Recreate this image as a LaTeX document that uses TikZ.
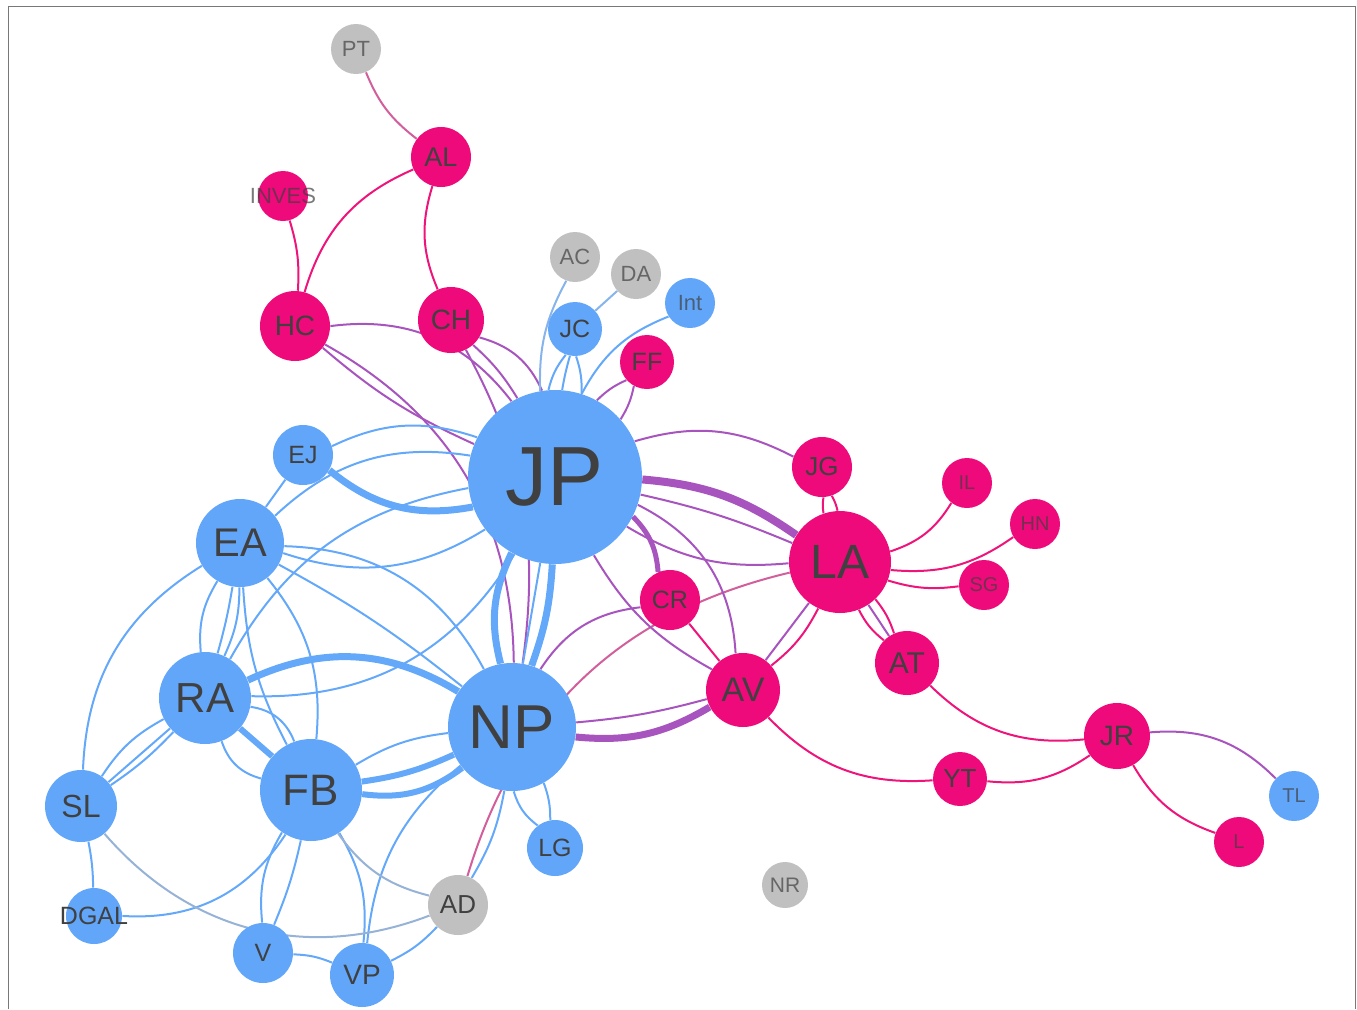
\documentclass[tikz,border=0pt]{standalone}
\usepackage{fontspec}
\setmainfont{Liberation Sans}
\usepackage{tikz}
\usetikzlibrary{backgrounds}
\definecolor{nodeblue}{RGB}{98,166,250}
\definecolor{nodepink}{RGB}{238,10,122}
\definecolor{nodegray}{RGB}{192,192,192}
\definecolor{labgray}{RGB}{64,64,64}
\definecolor{edgeblue}{RGB}{100,168,250}
\definecolor{edgepurple}{RGB}{168,84,190}
\definecolor{edgepink}{RGB}{238,20,122}
\definecolor{edgemauve}{RGB}{210,95,155}
\definecolor{edgelight}{RGB}{135,180,235}
\definecolor{edgegrayblue}{RGB}{150,178,215}
\definecolor{framegray}{RGB}{120,120,120}

\begin{document}
\begin{tikzpicture}[x=0.5pt, y=-0.5pt,
	vtx/.style={circle, inner sep=0pt, minimum size=#1},
	blu/.style={vtx=#1, fill=nodeblue},
	pnk/.style={vtx=#1, fill=nodepink},
	gry/.style={vtx=#1, fill=nodegray},
	lbl/.style={text=labgray, inner sep=0pt, font=\fontsize{#1pt}{#1pt}\selectfont},
	lbs/.style={lbl=#1, text opacity=0.7},
	bl/.style={draw=edgeblue, line width=1pt},
	pl/.style={draw=edgepurple, line width=1pt},
	pk/.style={draw=edgepink, line width=1pt},
	mv/.style={draw=edgemauve, line width=1pt},
	lb/.style={draw=edgelight, line width=1pt},
	gb/.style={draw=edgegrayblue, line width=1pt}]
	\useasboundingbox (0,0) rectangle (1357,1009);
	\draw[framegray, line width=0.5pt] (8,1009) -- (8,6) -- (1355,6) -- (1355,1009);

	% pink side, top
	\node[gry=25pt, label={[lbs=11]center:PT}] (PT) at (356,49) {};
	\node[pnk=30pt, label={[lbl=13.5]center:AL}] (AL) at (441,157) {};
	\node[pnk=25pt, label={[lbs=11]center:INVES}] (INVES) at (283,196) {};
	\node[pnk=35pt, label={[lbl=14]center:HC}] (HC) at (295,326) {};
	\node[pnk=33pt, label={[lbl=14]center:CH}] (CH) at (451,320) {};
	\node[gry=25pt, label={[lbs=11]center:AC}] (AC) at (575,257) {};
	\node[gry=25pt, label={[lbs=11]center:DA}] (DA) at (636,274) {};
	\node[blu=25pt, label={[lbs=11]center:Int}] (Int) at (690,303) {};
	\node[blu=27pt, label={[lbl=12.5]center:JC}] (JC) at (575,329) {};
	\node[pnk=27pt, label={[lbl=12.5]center:FF}] (FF) at (647,362) {};
	% the two hubs
	\node[blu=87pt, label={[lbl=42]center:JP}] (JP) at (555,477) {};
	\node[blu=64pt, label={[lbl=31]center:NP}] (NP) at (512,727) {};
	% right
	\node[pnk=30pt, label={[lbl=13]center:JG}] (JG) at (822,467) {};
	\node[pnk=51pt, label={[lbl=24]center:LA}] (LA) at (840,562) {};
	\node[pnk=25pt, label={[lbs=10]center:IL}] (IL) at (967,483) {};
	\node[pnk=25pt, label={[lbs=10]center:HN}] (HN) at (1035,524) {};
	\node[pnk=25pt, label={[lbs=10]center:SG}] (SG) at (984,585) {};
	\node[pnk=30pt, label={[lbl=12.5]center:CR}] (CR) at (670,600) {};
	\node[pnk=37pt, label={[lbl=17]center:AV}] (AV) at (743,690) {};
	\node[pnk=32pt, label={[lbl=15]center:AT}] (AT) at (907,663) {};
	\node[pnk=33pt, label={[lbl=14]center:JR}] (JR) at (1117,736) {};
	\node[pnk=27pt, label={[lbl=13]center:YT}] (YT) at (960,779) {};
	\node[blu=25pt, label={[lbs=10]center:TL}] (TL) at (1294,796) {};
	\node[pnk=25pt, label={[lbs=10]center:L}] (L) at (1239,842) {};
	\node[gry=23pt, label={[lbs=10.5]center:NR}] (NR) at (785,885) {};
	% left
	\node[blu=30pt, label={[lbl=12.5]center:EJ}] (EJ) at (303,455) {};
	\node[blu=44pt, label={[lbl=20]center:EA}] (EA) at (240,543) {};
	\node[blu=46pt, label={[lbl=21]center:RA}] (RA) at (205,698) {};
	\node[blu=51pt, label={[lbl=22]center:FB}] (FB) at (311,790) {};
	\node[blu=36pt, label={[lbl=16]center:SL}] (SL) at (81,806) {};
	\node[blu=28pt, label={[lbl=12.5]center:LG}] (LG) at (555,848) {};
	\node[gry=30pt, label={[lbl=13]center:AD}] (AD) at (458,905) {};
	\node[blu=28pt, label={[lbl=12.5]center:DGAL}] (DGAL) at (94,916) {};
	\node[blu=30pt, label={[lbl=12.5]center:V}] (V) at (263,953) {};
	\node[blu=32pt, label={[lbl=14]center:VP}] (VP) at (362,975) {};

	\begin{scope}[on background layer]
		% pink and mixed
		\draw[mv] (PT) to[bend right=15] (AL);
		\draw[mv] (AD) to[bend left=30] (LA);
		\draw[pk] (AL) to[bend right=25] (HC);
		\draw[pk] (AL) to[bend right=20] (CH);
		\draw[pk] (INVES) to[bend left=10] (HC);
		\draw[pk] (JG) to[bend right=8] (LA);
		\draw[pk] (JG) to[bend left=8] (LA);
		\draw[pk] (LA) to[bend right=20] (IL);
		\draw[pk] (LA) to[bend right=20] (HN);
		\draw[pk] (LA) to[bend right=12] (SG);
		\draw[pk] (LA) to[bend right=12] (AT);
		\draw[pk] (LA) to[bend left=10] (AT);
		\draw[pk] (LA) to[bend left=12] (AV);
		\draw[pk] (CR) to (AV);
		\draw[pk] (AV) to[bend right=25] (YT);
		\draw[pk] (YT) to[bend right=20] (JR);
		\draw[pk] (AT) to[bend right=25] (JR);
		\draw[pk] (JR) to[bend right=20] (L);
		% purple
		\draw[pl] (HC) to[bend left=30] (JP);
		\draw[pl] (HC) to[bend right=8] (JP);
		\draw[pl] (HC) to[bend left=30] (NP);
		\draw[pl] (CH) to[bend left=25] (JP);
		\draw[pl] (CH) to[bend left=8] (JP);
		\draw[pl] (CH) to[bend left=18] (NP);
		\draw[pl] (FF) to[bend right=10] (JP);
		\draw[pl] (FF) to[bend left=10] (JP);
		\draw[pl] (JP) to[bend left=22] (JG);
		\draw[pl] (JP) to[bend left=5] (LA);
		\draw[pl] (JP) to[bend right=18] (LA);
		\draw[pl] (JP) to[bend left=30] (AV);
		\draw[pl] (JP) to[bend right=15] (AV);
		\draw[pl] (NP) to[bend left=25] (CR);
		\draw[pl] (NP) to[bend right=5] (AV);
		\draw[pl] (LA) to (AV);
		\draw[pl] (LA) to (AT);
		\draw[pl] (JR) to[bend left=25] (TL);
		\draw[pl, line width=4pt] (JP) to[bend left=15] (LA);
		\draw[pl, line width=2.5pt] (JP) to[bend left=20] (CR);
		\draw[pl, line width=3.5pt] (NP) to[bend right=18] (AV);
		% blue
		\draw[lb] (AC) to[bend right=15] (JP);
		\draw[lb] (JC) to (DA);
		\draw[bl] (JC) to[bend right=12] (JP);
		\draw[bl] (JC) to[bend right=3] (JP);
		\draw[bl] (JC) to[bend left=10] (JP);
		\draw[bl] (Int) to[bend right=20] (JP);
		\draw[bl] (EJ) to[bend left=22] (JP);
		\draw[bl] (EA) to (EJ);
		\draw[bl] (EA) to[bend left=26] (JP);
		\draw[bl] (EA) to[bend right=25] (JP);
		\draw[bl] (EA) to[bend left=30] (NP);
		\draw[bl] (EA) to[bend left=5] (NP);
		\draw[bl] (EA) to[bend right=18] (RA);
		\draw[bl] (EA) to[bend left=3] (RA);
		\draw[bl] (EA) to[bend left=12] (RA);
		\draw[bl] (EA) to[bend right=12] (FB);
		\draw[bl] (EA) to[bend left=22] (FB);
		\draw[bl] (EA) to[bend right=28] (SL);
		\draw[bl] (RA) to[bend left=25] (JP);
		\draw[bl] (RA) to[bend right=30] (JP);
		\draw[bl] (RA) to[bend left=30] (FB);
		\draw[bl] (RA) to[bend right=28] (FB);
		\draw[bl] (RA) to[bend right=14] (SL);
		\draw[bl] (RA) to (SL);
		\draw[bl] (RA) to[bend left=6] (SL);
		\draw[bl] (FB) to[bend left=12] (NP);
		\draw[bl] (FB) to[bend right=18] (V);
		\draw[bl] (FB) to[bend left=5] (V);
		\draw[bl] (FB) to[bend left=18] (VP);
		\draw[bl] (FB) to[bend left=30] (DGAL);
		\draw[bl] (SL) to[bend left=5] (DGAL);
		\draw[bl] (V) to[bend left=10] (VP);
		\draw[bl] (VP) to[bend right=10] (AD);
		\draw[bl] (VP) to[bend left=22] (NP);
		\draw[bl] (AD) to[bend right=10] (NP);
		\draw[bl] (NP) to[bend right=18] (LG);
		\draw[bl] (NP) to[bend left=10] (LG);
		\draw[bl] (JP) to (NP);
		\draw[gb] (SL) to[bend right=35] (AD);
		\draw[gb] (FB) to[bend right=20] (AD);
		\draw[bl, line width=3.5pt] (EJ) to[bend right=25] (JP);
		\draw[bl, line width=3.5pt] (RA) to[bend left=28] (NP);
		\draw[bl, line width=3pt] (RA) to (FB);
		\draw[bl, line width=3pt] (FB) to[bend right=8] (NP);
		\draw[bl, line width=3pt] (FB) to[bend right=22] (NP);
		\draw[bl, line width=3.5pt] (JP) to[bend right=20] (NP);
		\draw[bl, line width=3.5pt] (JP) to[bend left=8] (NP);
	\end{scope}
\end{tikzpicture}
\end{document}
